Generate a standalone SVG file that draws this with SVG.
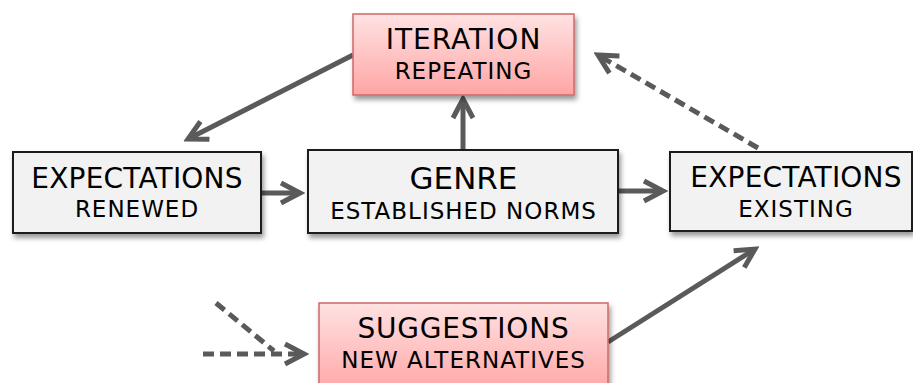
<svg xmlns="http://www.w3.org/2000/svg" width="913" height="383" viewBox="0 0 913 383">
<style>
.gray{fill:#f2f2f2;stroke:#1a1a1a;stroke-width:2}
.pink{fill:url(#pg);stroke:#d06868;stroke-width:1.5}
.t{font-family:"DejaVu Sans",Verdana,sans-serif;fill:#000;text-anchor:middle}
.big{font-size:28px;letter-spacing:0.2px}
.sm{font-size:23px;letter-spacing:1px}
.c{fill:none;stroke:#5a5a5a;stroke-width:5}
.d{stroke-dasharray:11 6}
</style>
<defs>
<linearGradient id="pg" x1="0" y1="0" x2="0" y2="1">
<stop offset="0" stop-color="#ffe2e2"/>
<stop offset="1" stop-color="#ffa5a5"/>
</linearGradient>
<filter id="sh" x="-10%" y="-10%" width="130%" height="140%">
<feDropShadow dx="2" dy="4" stdDeviation="2.5" flood-color="#000" flood-opacity="0.4"/>
</filter>
<marker id="ah" markerUnits="userSpaceOnUse" markerWidth="30" markerHeight="30" viewBox="-25 -15 30 30" refX="0" refY="0" orient="auto">
<path d="M-19,-10 L0,0 L-19,10" fill="none" stroke="#5a5a5a" stroke-width="5" stroke-linejoin="miter"/>
</marker>
</defs>
<g id="connectors">
<line class="c" x1="463" y1="149" x2="463" y2="99" marker-end="url(#ah)"/>
<line class="c" x1="353" y1="55" x2="188" y2="139" marker-end="url(#ah)"/>
<line class="c" x1="262" y1="193" x2="300" y2="193" marker-end="url(#ah)"/>
<line class="c" x1="619" y1="191" x2="663" y2="191" marker-end="url(#ah)"/>
<line class="c d" x1="758" y1="148" x2="598" y2="55" marker-end="url(#ah)"/>
<line class="c" x1="608" y1="342" x2="755" y2="249" marker-end="url(#ah)"/>
<line class="c d" x1="203" y1="354" x2="304" y2="354" marker-end="url(#ah)"/>
<line class="c d" x1="216" y1="303" x2="274" y2="351"/>
</g>
<g id="iteration">
<rect class="pink" x="353" y="14" width="221" height="81" filter="url(#sh)"/>
<text class="t big" style="letter-spacing:1px" x="463.5" y="49">ITERATION</text>
<text class="t sm" x="463.5" y="79">REPEATING</text>
</g>
<g id="renewed">
<rect class="gray" x="13" y="152" width="248" height="81" filter="url(#sh)"/>
<text class="t big" x="137" y="188">EXPECTATIONS</text>
<text class="t sm" x="137" y="217">RENEWED</text>
</g>
<g id="genre">
<rect class="gray" x="308" y="150" width="310" height="83" filter="url(#sh)"/>
<text class="t" style="font-size:31px" x="463.5" y="189">GENRE</text>
<text class="t sm" x="463.5" y="219">ESTABLISHED NORMS</text>
</g>
<g id="existing">
<rect class="gray" x="670" y="152" width="242" height="79" filter="url(#sh)"/>
<text class="t big" x="796" y="187">EXPECTATIONS</text>
<text class="t sm" x="796" y="217">EXISTING</text>
</g>
<g id="suggestions">
<rect class="pink" x="319" y="303" width="289" height="90" filter="url(#sh)"/>
<text class="t big" style="letter-spacing:0.8px" x="463.5" y="338">SUGGESTIONS</text>
<text class="t sm" x="463.5" y="368">NEW ALTERNATIVES</text>
</g>
</svg>
